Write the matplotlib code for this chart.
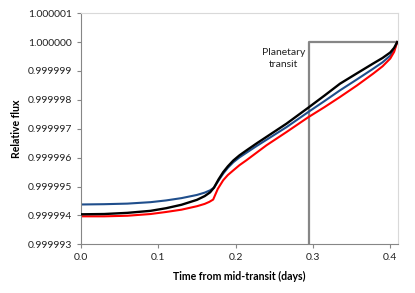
import matplotlib
matplotlib.use("Agg")
import matplotlib.pyplot as plt
from matplotlib.ticker import FormatStrFormatter

plt.rcParams['font.family'] = ['Lato', 'DejaVu Sans']

# Time from mid-transit (days) and relative flux offsets (in units of 1e-6 from 1)
t_black = [0.0, 0.03, 0.06, 0.09, 0.11, 0.13, 0.15, 0.16, 0.167, 0.172, 0.178, 0.184, 0.190,
           0.197, 0.205, 0.214, 0.227, 0.240, 0.266, 0.294, 0.315, 0.335, 0.357, 0.378,
           0.390, 0.400, 0.405, 0.409]
d_black = [-5.96, -5.95, -5.91, -5.84, -5.75, -5.63, -5.46, -5.33, -5.20, -5.04, -4.75, -4.50, -4.30,
           -4.10, -3.92, -3.75, -3.51, -3.28, -2.82, -2.27, -1.85, -1.44, -1.08, -0.74,
           -0.55, -0.36, -0.20, 0.0]

t_blue = [0.0, 0.03, 0.06, 0.09, 0.11, 0.13, 0.15, 0.16, 0.167, 0.172, 0.178, 0.184, 0.190,
          0.197, 0.205, 0.214, 0.227, 0.240, 0.266, 0.294, 0.315, 0.335, 0.357, 0.378,
          0.390, 0.400, 0.405, 0.409]
d_blue = [-5.62, -5.61, -5.59, -5.54, -5.48, -5.40, -5.29, -5.21, -5.13, -5.04, -4.79, -4.55, -4.35,
          -4.16, -3.99, -3.83, -3.60, -3.38, -2.94, -2.42, -2.04, -1.67, -1.29, -0.92,
          -0.70, -0.47, -0.27, 0.0]

t_red = [0.0, 0.03, 0.06, 0.09, 0.11, 0.13, 0.15, 0.16, 0.166, 0.171, 0.177, 0.184, 0.190,
         0.197, 0.205, 0.214, 0.227, 0.240, 0.266, 0.294, 0.315, 0.335, 0.357, 0.378,
         0.390, 0.400, 0.405, 0.409]
d_red = [-6.03, -6.03, -6.01, -5.95, -5.88, -5.80, -5.68, -5.60, -5.53, -5.45, -5.08, -4.78, -4.60,
         -4.44, -4.26, -4.09, -3.83, -3.57, -3.11, -2.60, -2.25, -1.90, -1.50, -1.09,
         -0.84, -0.57, -0.34, 0.0]

transit_t = 0.295
yticks = [0.999993, 0.999994, 0.999995, 0.999996, 0.999997, 0.999998, 0.999999, 1.000000, 1.000001]
xticks = [0.0, 0.1, 0.2, 0.3, 0.4]

fl = lambda d: [1.0 + v * 1e-6 for v in d]

fig = plt.figure(figsize=(4.15, 2.93), dpi=100)
ax = fig.add_axes([0.195, 0.166, 0.764, 0.789])

ax.plot([transit_t, transit_t, 0.41], [0.999993, 1.0, 1.0], color='#868686', lw=1.6, zorder=1)
ax.plot(t_blue, fl(d_blue), color='#1F4E8C', lw=1.5, zorder=2)
ax.plot(t_black, fl(d_black), color='black', lw=1.7, zorder=3)
ax.plot(t_red, fl(d_red), color='#FF0000', lw=1.5, zorder=2)

ax.text(0.262, 1.0 - 0.58e-6, 'Planetary\ntransit', ha='center', va='center', fontsize=7.5,
        linespacing=1.45, color='#222222')

ax.set_xlim(0, 0.41)
ax.set_ylim(0.999993, 1.000001)
ax.set_xticks(xticks)
ax.set_yticks(yticks)
ax.yaxis.set_major_formatter(FormatStrFormatter('%.6f'))
ax.xaxis.set_major_formatter(FormatStrFormatter('%.1f'))
ax.tick_params(axis='both', labelsize=7.5, colors='#868686', labelcolor='#222222', length=3, width=0.8)

for s in ['left', 'bottom']:
    ax.spines[s].set_color('#868686')
for s in ['top', 'right']:
    ax.spines[s].set_color('#D9D9D9')

ax.set_xlabel('Time from mid-transit (days)', fontsize=7.6, fontweight='bold', labelpad=6)
ax.set_ylabel('Relative flux', fontsize=7.6, fontweight='bold', labelpad=4)

fig.savefig('out.png', dpi=100)
